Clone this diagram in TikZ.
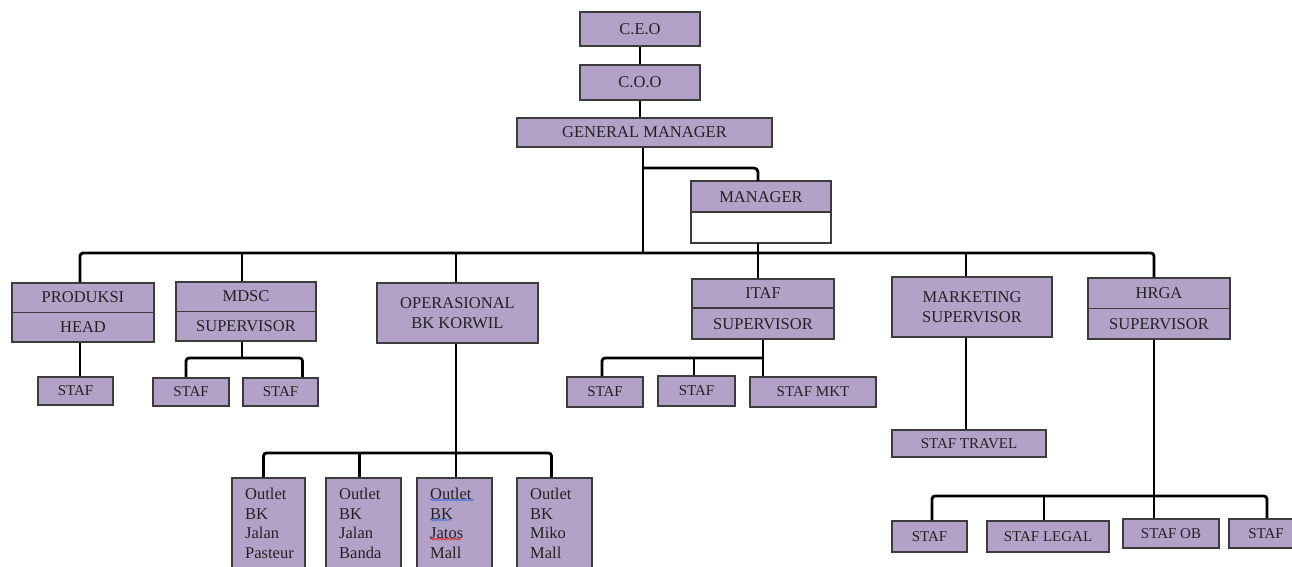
\documentclass[tikz,border=0pt]{standalone}
\usepackage{fontspec}
\setmainfont{Liberation Serif}
\usetikzlibrary{calc,decorations.pathmorphing}
\definecolor{lav}{HTML}{B3A2C7}
\definecolor{bord}{HTML}{3C3C3C}
\definecolor{txt}{HTML}{222222}
\definecolor{spellblue}{HTML}{4A72D8}
\definecolor{spellred}{HTML}{D83030}
\begin{document}
\begin{tikzpicture}[x=1pt,y=-1pt,
  box/.style={draw=bord, fill=lav, line width=1.6pt, inner sep=0pt, text=txt, font=\fontsize{16.5}{20}\selectfont},
  stafbox/.style={box, font=\fontsize{15}{18}\selectfont},
  lbl/.style={text=txt, font=\fontsize{16.5}{19.5}\selectfont, inner sep=0pt},
  conn/.style={draw=black, line width=2.8pt},
  divider/.style={draw=bord, line width=1.6pt},
  squiggle/.style={line width=0.9pt, decorate, decoration={snake, amplitude=0.8pt, segment length=3pt}}]
\useasboundingbox (0,0) rectangle (1292,566);
% helper levels
\coordinate (gmbr) at (0,168);
\coordinate (busy) at (0,253);
\coordinate (mdscbr) at (0,358);
\coordinate (itafbr) at (0,358);
\coordinate (operbr) at (0,453);
\coordinate (hrgabr) at (0,496);

% top chain
\node[box, minimum width=120, minimum height=34] (ceo) at (640,29) {C.E.O};
\node[box, minimum width=120, minimum height=35] (coo) at (640,82.5) {C.O.O};
\node[box, minimum width=255, minimum height=29] (gm) at (644.5,132.5) {GENERAL MANAGER};

% manager (half filled)
\node[box, draw=none, fill=white, minimum width=138, minimum height=60] (mgr) at (761,212) {};
\path[fill=lav] (mgr.north west) rectangle (mgr.east);
\draw[divider] (mgr.north west) rectangle (mgr.south east);
\draw[divider] (mgr.west) -- (mgr.east);
\node[lbl] (mgrt) at (761,197) {MANAGER};

% second level
\node[box, minimum width=142, minimum height=59] (prod) at (83,312.5) {};
\draw[divider] (prod.west) -- (prod.east);
\node[lbl] (prodt) at (83,297) {PRODUKSI};
\node[lbl] (prodb) at (83,327) {HEAD};

\node[box, minimum width=140, minimum height=59] (mdsc) at (246,311.5) {};
\draw[divider] (mdsc.west) -- (mdsc.east);
\node[lbl] (mdsct) at (246,296) {MDSC};
\node[lbl] (mdscb) at (246,326) {SUPERVISOR};

\node[box, minimum width=161, minimum height=60, align=center] (oper) at (457.5,313) {OPERASIONAL\\BK KORWIL};

\node[box, minimum width=142, minimum height=60] (itaf) at (763,309) {};
\draw[divider] ([yshift=1pt]itaf.west) -- ([yshift=1pt]itaf.east);
\node[lbl] (itaft) at (763,293.5) {ITAF};
\node[lbl] (itafb) at (763,324) {SUPERVISOR};

\node[box, minimum width=160, minimum height=60, align=center] (mark) at (972,307) {MARKETING\\SUPERVISOR};

\node[box, minimum width=142, minimum height=61] (hrga) at (1159,308.5) {};
\draw[divider] (hrga.west) -- (hrga.east);
\node[lbl] (hrgat) at (1159,293.5) {HRGA};
\node[lbl] (hrgab) at (1159,324) {SUPERVISOR};

% staff level
\node[stafbox, minimum width=75, minimum height=28] (stafP) at (75.5,391) {STAF};
\node[stafbox, minimum width=76, minimum height=28] (stafM1) at (191,392) {STAF};
\node[stafbox, minimum width=75, minimum height=28] (stafM2) at (280.5,392) {STAF};
\node[stafbox, minimum width=76, minimum height=30] (stafI1) at (605,392) {STAF};
\node[stafbox, minimum width=77, minimum height=30] (stafI2) at (696.5,391) {STAF};
\node[stafbox, minimum width=126, minimum height=30] (stafMKT) at (813,392) {STAF MKT};
\node[stafbox, minimum width=154, minimum height=27] (stafT) at (969,443.5) {STAF TRAVEL};
\node[stafbox, minimum width=75, minimum height=31] (stafH1) at (929.5,536.5) {STAF};
\node[stafbox, minimum width=122, minimum height=31] (stafL) at (1048,536.5) {STAF LEGAL};
\node[stafbox, minimum width=96, minimum height=29] (stafOB) at (1171,533.5) {STAF OB};
\node[stafbox, minimum width=74, minimum height=29] (stafH4) at (1266,533.5) {STAF};

% outlets
\node[box, minimum width=73, minimum height=112] (o1) at (268.5,534) {};
\node[box, minimum width=75, minimum height=112] (o2) at (363.5,534) {};
\node[box, minimum width=75, minimum height=112] (o3) at (454.5,534) {};
\node[box, minimum width=75, minimum height=112] (o4) at (554.5,534) {};
\node[lbl, align=left, anchor=north west] (o1t) at (245,488) {Outlet\\BK\\Jalan\\Pasteur};
\node[lbl, align=left, anchor=north west] (o2t) at (339,488) {Outlet\\BK\\Jalan\\Banda};
\node[lbl, align=left, anchor=north west] (o3t) at (430,488) {Outlet\\BK\\Jatos\\Mall};
\node[lbl, align=left, anchor=north west] (o4t) at (530,488) {Outlet\\BK\\Miko\\Mall};
\draw[squiggle, spellblue] (430,500) -- (474,500);
\draw[squiggle, spellblue] (430,520) -- (451,520);
\draw[squiggle, spellred] (430,539) -- (461,539);

% connectors
\draw[conn] (ceo.south) -- (ceo.south |- coo.north);
\draw[conn] (coo.south) -- (coo.south |- gm.north);
\draw[conn] ([xshift=-1.5pt]gm.south) -- ([xshift=-1.5pt]gm.south |- busy);
\draw[conn, rounded corners=4pt] ([xshift=-1.5pt]gm.south |- gmbr) -| ([xshift=-3pt]mgr.north);
\draw[conn] ([xshift=-3pt]mgr.south) -- ([xshift=-3pt]mgr.south |- itaf.north);
\draw[conn, rounded corners=3pt] ([xshift=-3pt]prod.north) |- ([xshift=-5pt]hrga.north |- busy) -- ([xshift=-5pt]hrga.north);
\draw[conn] ([xshift=-4pt]mdsc.north |- busy) -- ([xshift=-4pt]mdsc.north);
\draw[conn] ([xshift=-1.5pt]oper.north |- busy) -- ([xshift=-1.5pt]oper.north);
\draw[conn] ([xshift=-6pt]mark.north |- busy) -- ([xshift=-6pt]mark.north);

\draw[conn] ([xshift=-3pt]prod.south) -- ([xshift=-3pt]prod.south |- stafP.north);

\draw[conn] ([xshift=-4pt]mdsc.south) -- ([xshift=-4pt]mdsc.south |- mdscbr);
\draw[conn, rounded corners=3pt] ([xshift=-5pt]stafM1.north) |- ([xshift=22pt]stafM2.north |- mdscbr) -- ([xshift=22pt]stafM2.north);

\draw[conn] (itaf.south) -- (itaf.south |- stafMKT.north);
\draw[conn, rounded corners=3pt] ([xshift=-3pt]stafI1.north) |- (itaf.south |- itafbr);
\draw[conn] ([xshift=-2.5pt]stafI2.north) -- ([xshift=-2.5pt]stafI2.north |- itafbr);

\draw[conn] ([xshift=-6pt]mark.south) -- ([xshift=-6pt]mark.south |- stafT.north);

\draw[conn] ([xshift=-1.5pt]oper.south) -- ([xshift=-1.5pt]oper.south |- o3.north);
\draw[conn, rounded corners=3pt] ([xshift=-5pt]o1.north) |- ([xshift=-3pt]o4.north |- operbr) -- ([xshift=-3pt]o4.north);
\draw[conn] ([xshift=-4pt]o2.north) -- ([xshift=-4pt]o2.north |- operbr);

\draw[conn] ([xshift=-5pt]hrga.south) -- ([xshift=-5pt]hrga.south |- stafOB.north);
\draw[conn, rounded corners=3pt] ([xshift=2.5pt]stafH1.north) |- ([xshift=1pt]stafH4.north |- hrgabr) -- ([xshift=1pt]stafH4.north);
\draw[conn] ([xshift=-4pt]stafL.north) -- ([xshift=-4pt]stafL.north |- hrgabr);
\end{tikzpicture}
\end{document}
